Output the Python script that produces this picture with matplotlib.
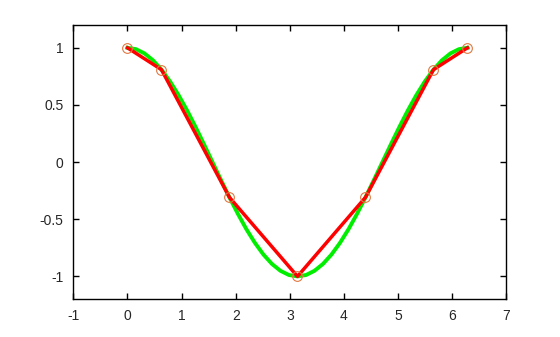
import matplotlib
matplotlib.use("Agg")
import matplotlib.pyplot as plt

# smooth curve samples
curve_x = [0.000, 0.157, 0.314, 0.471, 0.628, 0.785, 0.942, 1.100, 1.257, 1.414,
           1.571, 1.728, 1.885, 2.042, 2.199, 2.356, 2.513, 2.670, 2.827, 2.985,
           3.142, 3.299, 3.456, 3.613, 3.770, 3.927, 4.084, 4.241, 4.398, 4.555,
           4.712, 4.869, 5.027, 5.184, 5.341, 5.498, 5.655, 5.812, 5.969, 6.126, 6.283]
curve_y = [1.000, 0.988, 0.951, 0.891, 0.809, 0.707, 0.588, 0.454, 0.309, 0.156,
           0.000, -0.156, -0.309, -0.454, -0.588, -0.707, -0.809, -0.891, -0.951, -0.988,
           -1.000, -0.988, -0.951, -0.891, -0.809, -0.707, -0.588, -0.454, -0.309, -0.156,
           0.000, 0.156, 0.309, 0.454, 0.588, 0.707, 0.809, 0.891, 0.951, 0.988, 1.000]

# coarse samples
pts_x = [0.000, 0.628, 1.885, 3.142, 4.398, 5.655, 6.283]
pts_y = [1.000, 0.809, -0.309, -1.000, -0.309, 0.809, 1.000]

xticks = [-1, 0, 1, 2, 3, 4, 5, 6, 7]
xtick_labels = ["-1", "0", "1", "2", "3", "4", "5", "6", "7"]
yticks = [-1, -0.5, 0, 0.5, 1]
ytick_labels = ["-1", "-0.5", "0", "0.5", "1"]

plt.rcParams['font.family'] = ['Liberation Sans', 'DejaVu Sans']
plt.rcParams['axes.unicode_minus'] = False

fig = plt.figure(figsize=(5.6, 3.37), dpi=100)
ax = fig.add_axes([0.131, 0.112, 0.773, 0.814])

ax.plot(curve_x, curve_y, color='#00ee00', lw=2.8, zorder=2)
ax.plot(pts_x, pts_y, color='#ff0000', lw=2.5, zorder=3)
ax.plot(pts_x, pts_y, linestyle='none', marker='o', markersize=7,
        markerfacecolor='none', markeredgecolor='#e07840', markeredgewidth=0.8, zorder=4)

ax.set_xlim(-1, 7)
ax.set_ylim(-1.2, 1.2)
ax.set_xticks(xticks)
ax.set_xticklabels(xtick_labels)
ax.set_yticks(yticks)
ax.set_yticklabels(ytick_labels)
ax.tick_params(direction='in', length=4, width=1, top=True, right=True,
               labelsize=10, pad=7, colors='black', labelcolor='#262626')
for s in ax.spines.values():
    s.set_linewidth(1)

fig.savefig('out.png', dpi=100)
